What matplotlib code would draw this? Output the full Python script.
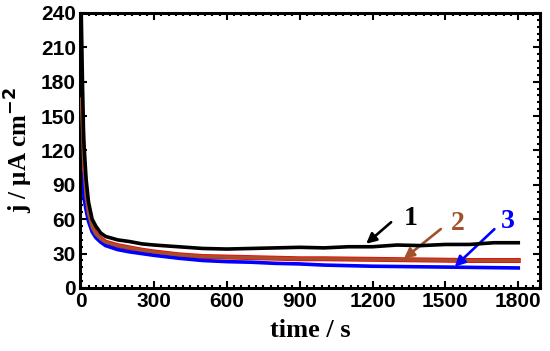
import matplotlib
matplotlib.use("Agg")
import matplotlib.pyplot as plt
from matplotlib.ticker import MultipleLocator

# time (s) and current density (uA cm^-2)
t1 = [0, 5, 10, 20, 30, 45, 60, 80, 100, 150, 200, 250, 300, 400, 500, 600, 700, 800, 900, 1000, 1100, 1200, 1300, 1400, 1500, 1600, 1700, 1800]
j1 = [240, 180, 130, 95, 75, 60, 54, 48, 45, 42, 40.5, 38.5, 37.5, 36, 34.5, 34, 34.5, 35, 35.5, 35, 36, 36, 37.5, 37, 38, 38, 39.5, 39.5]

t2 = [0, 5, 10, 20, 30, 45, 60, 80, 100, 150, 200, 250, 300, 400, 500, 600, 700, 800, 900, 1000, 1200, 1400, 1600, 1800]
j2 = [165, 140, 110, 80, 65, 53, 47, 43, 40, 37, 35, 33, 31.5, 29, 27.5, 27, 26.5, 26, 25.5, 25.5, 25, 24.5, 24, 24]

t3 = [0, 5, 10, 20, 30, 45, 60, 80, 100, 150, 200, 250, 300, 400, 500, 600, 700, 800, 900, 1000, 1200, 1400, 1600, 1800]
j3 = [100, 90, 80, 68, 58, 49, 44, 40, 37, 33.5, 31.5, 30, 28.5, 26, 24, 23, 22.5, 21.5, 21, 20, 19, 18.5, 18, 17.5]

labels = ["1", "2", "3"]
label_pos = [(1355, 61), (1550, 56), (1755, 58)]
arrow_tail = [(1285, 59), (1490, 53), (1710, 53)]
arrow_tip = [(1165, 37), (1320, 24), (1530, 17)]
colors = ["black", "#a0522d", "blue"]

fig = plt.figure(figsize=(5.5, 3.51), dpi=100)
ax = fig.add_axes([0.1455, 0.1795, 0.8365, 0.7835])

ax.plot(t1, j1, color="black", lw=2.6, zorder=4)
ax.plot(t2, j2, color="red", lw=3.6, zorder=2)
ax.plot(t2, j2, color="#a0522d", lw=2.4, zorder=3)
ax.plot(t3, j3, color="blue", lw=2.6, zorder=2)

for lab, lp, tail, tip, c in zip(labels, label_pos, arrow_tail, arrow_tip, colors):
    ax.annotate("", xy=tip, xytext=tail,
                arrowprops=dict(arrowstyle="-|>", color=c, lw=1.9, mutation_scale=15))
    ax.text(lp[0], lp[1], lab, color=c, fontsize=20, fontweight="bold",
            family="Liberation Serif", ha="center", va="center")

ax.set_xlim(-5, 1890)
ax.set_ylim(0, 240)
ax.xaxis.set_major_locator(MultipleLocator(300))
ax.xaxis.set_minor_locator(MultipleLocator(30))
ax.yaxis.set_major_locator(MultipleLocator(30))
ax.yaxis.set_minor_locator(MultipleLocator(6))
ax.tick_params(which="both", direction="in", top=True, right=True, width=1.5)
ax.tick_params(which="major", length=5, labelsize=15, pad=3)
ax.tick_params(which="minor", length=2.5)
for lab in ax.get_xticklabels() + ax.get_yticklabels():
    lab.set_fontweight("bold")
    lab.set_family("Liberation Sans")
for s in ax.spines.values():
    s.set_linewidth(2.2)

ax.set_xlabel("time / s", fontsize=19, fontweight="bold", family="Liberation Serif", labelpad=6)
ax.set_ylabel("j / μA cm$^{\\mathbf{-2}}$", fontsize=18, fontweight="bold", family="Liberation Serif", labelpad=4)

fig.savefig("out.png", dpi=100)
